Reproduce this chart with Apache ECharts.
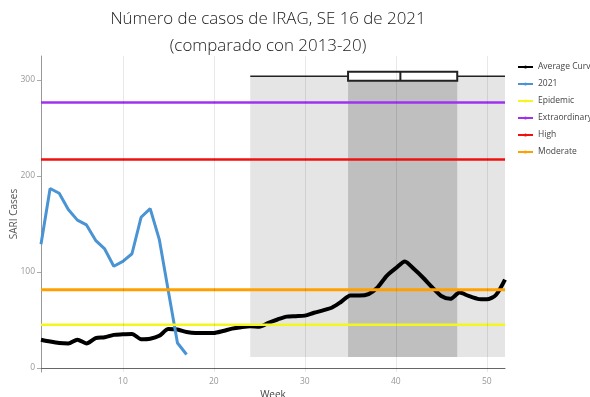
<!DOCTYPE html>
<html>
<head>
<meta charset="utf-8">
<script src="https://cdn.jsdelivr.net/npm/echarts@6/dist/echarts.min.js"></script>
<style>
  html, body { margin: 0; padding: 0; background: #fff; }
  #chart { width: 590px; height: 397px; }
</style>
</head>
<body>
<div id="chart"></div>
<script>
// Weekly SARI (IRAG) case counts
const weeks2021 = [1, 2, 3, 4, 5, 6, 7, 8, 9, 10, 11, 12, 13, 14, 15, 16, 17];
const cases2021 = [129, 187, 182, 165, 154, 149, 133, 124, 106, 111, 119, 157, 166, 134, 80, 26, 14];

const weeksAll = Array.from({ length: 52 }, (_, i) => i + 1);
const averageCurve = [
  29.4, 27.5, 26, 25.5, 29.5, 25.5, 31, 32, 34.5, 35,
  35.5, 30, 30.5, 33.5, 40.5, 40, 37.5, 36.5, 36.5, 36.5,
  38.5, 41, 42.5, 43.5, 43, 47, 50.5, 53.5, 54, 54.5,
  57.5, 60, 63, 69, 75.5, 75.5, 77, 84, 96, 104,
  111, 103, 94, 84, 75, 72, 78.5, 75, 72, 71.5,
  76, 92
];

// Alert thresholds
const epidemicLevel = 45;
const extraordinaryLevel = 276.5;
const highLevel = 217.3;
const moderateLevel = 81.4;

// Peak-week distribution: [min, q1, median, q3, max, height on the y scale]
const peakWeekBox = [24, 34.75, 40.5, 46.75, 52, 304];
// Shaded season bands: [startWeek, endWeek, lowCases, highCases]
const seasonBand = [24, 52, 11.4, 304];
const peakBand = [34.75, 46.75, 11.4, 304];

const xTicks = [10, 20, 30, 40, 50];
const yTicks = [0, 100, 200, 300];

const font = '"Open Sans", "DejaVu Sans", sans-serif';

function pairs(xs, ys) { return xs.map((x, i) => [x, ys[i]]); }
function flat(v) { return [[1, v], [52, v]]; }

const chart = echarts.init(document.getElementById('chart'), null, { renderer: 'canvas' });

chart.setOption({
  animation: false,
  backgroundColor: '#fff',
  title: [
    {
      text: 'Número de casos de IRAG, SE 16 de 2021',
      left: 263, top: 6, textAlign: 'center',
      textStyle: { fontFamily: font, fontWeight: 300, fontSize: 16.9, color: '#1a1a1a' }
    },
    {
      text: '(comparado con 2013-20)',
      left: 263, top: 33, textAlign: 'center',
      textStyle: { fontFamily: font, fontWeight: 300, fontSize: 16.9, color: '#1a1a1a' }
    }
  ],
  legend: {
    orient: 'vertical',
    left: 517, top: 61, padding: 0,
    itemWidth: 15, itemHeight: 4,
    itemGap: 5,
    textStyle: { fontFamily: font, fontSize: 8.5, color: '#444', lineHeight: 12 },
    data: ['Average Curve', '2021', 'Epidemic', 'Extraordinary', 'High', 'Moderate']
  },
  grid: { left: 41, right: 85, top: 56, bottom: 25, containLabel: false, outerBoundsMode: 'none' },
  xAxis: {
    type: 'value', min: 1, max: 52,
    name: 'Week', nameLocation: 'middle', nameGap: 18, nameMoveOverlap: false,
    nameTextStyle: { fontFamily: font, fontSize: 10, color: '#444' },
    axisLine: { show: true, lineStyle: { color: '#666', width: 1 } },
    axisTick: { show: false },
    splitLine: { show: false },
    axisLabel: {
      customValues: xTicks, margin: 5,
      fontFamily: font, fontSize: 8.5, color: '#999'
    }
  },
  yAxis: {
    type: 'value', min: -4.2, max: 325,
    name: 'SARI Cases', nameLocation: 'middle', nameGap: 22, nameMoveOverlap: false,
    nameTextStyle: { fontFamily: font, fontSize: 10, color: '#555' },
    axisLine: { show: true, onZero: false, lineStyle: { color: '#999', width: 1 } },
    axisTick: { show: true, customValues: yTicks, length: 4, lineStyle: { color: '#aaa' } },
    splitLine: { show: false },
    axisLabel: {
      customValues: yTicks, margin: 6,
      fontFamily: font, fontSize: 8.5, color: '#999'
    }
  },
  series: [
    {
      // shaded season and peak bands, plus vertical week gridlines
      type: 'line', data: [], silent: true, z: 1,
      markArea: {
        silent: true,
        data: [
          [{ xAxis: seasonBand[0], yAxis: seasonBand[2], itemStyle: { color: '#e5e5e5' } },
           { xAxis: seasonBand[1], yAxis: seasonBand[3] }],
          [{ xAxis: peakBand[0], yAxis: peakBand[2], itemStyle: { color: '#bfbfbf' } },
           { xAxis: peakBand[1], yAxis: peakBand[3] }]
        ]
      },
      markLine: {
        silent: true, symbol: 'none', label: { show: false },
        lineStyle: { color: 'rgba(0,0,0,0.09)', width: 1, type: 'solid' },
        data: xTicks.map(v => ({ xAxis: v }))
      }
    },
    {
      // peak-week box with whiskers
      type: 'custom', z: 2, silent: true,
      data: [peakWeekBox],
      renderItem: function (params, api) {
        const y = api.value(5);
        const pMin = api.coord([api.value(0), y]);
        const pQ1 = api.coord([api.value(1), y]);
        const pMed = api.coord([api.value(2), y]);
        const pQ3 = api.coord([api.value(3), y]);
        const pMax = api.coord([api.value(4), y]);
        const h = 9;
        return {
          type: 'group',
          children: [
            { type: 'line', shape: { x1: pMin[0], y1: pMin[1], x2: pMax[0], y2: pMax[1] },
              style: { stroke: '#222', lineWidth: 1.5 } },
            { type: 'rect', shape: { x: pQ1[0], y: pQ1[1] - h / 2, width: pQ3[0] - pQ1[0], height: h },
              style: { fill: '#fff', stroke: '#222', lineWidth: 2 } },
            { type: 'line', shape: { x1: pMed[0], y1: pMed[1] - h / 2, x2: pMed[0], y2: pMed[1] + h / 2 },
              style: { stroke: '#222', lineWidth: 2 } }
          ]
        };
      }
    },
    {
      name: 'Average Curve', type: 'line', z: 3,
      data: pairs(weeksAll, averageCurve),
      showSymbol: false, symbol: 'none', smooth: 0.25,
      lineStyle: { color: '#000', width: 4 }, itemStyle: { color: '#000' }
    },
    {
      name: '2021', type: 'line', z: 3,
      data: pairs(weeks2021, cases2021),
      showSymbol: false, symbol: 'none',
      lineStyle: { color: '#4a94d4', width: 3 }, itemStyle: { color: '#4a94d4' }
    },
    {
      name: 'Epidemic', type: 'line', z: 3, data: flat(epidemicLevel),
      showSymbol: false, symbol: 'none',
      lineStyle: { color: '#f5f51f', width: 2.5 }, itemStyle: { color: '#f5f51f' }
    },
    {
      name: 'Extraordinary', type: 'line', z: 3, data: flat(extraordinaryLevel),
      showSymbol: false, symbol: 'none',
      lineStyle: { color: '#a030f0', width: 2.5 }, itemStyle: { color: '#a030f0' }
    },
    {
      name: 'High', type: 'line', z: 3, data: flat(highLevel),
      showSymbol: false, symbol: 'none',
      lineStyle: { color: '#f01010', width: 2.5 }, itemStyle: { color: '#f01010' }
    },
    {
      name: 'Moderate', type: 'line', z: 3, data: flat(moderateLevel),
      showSymbol: false, symbol: 'none',
      lineStyle: { color: '#ffa000', width: 3 }, itemStyle: { color: '#ffa000' }
    }
  ]
});
</script>
</body>
</html>
